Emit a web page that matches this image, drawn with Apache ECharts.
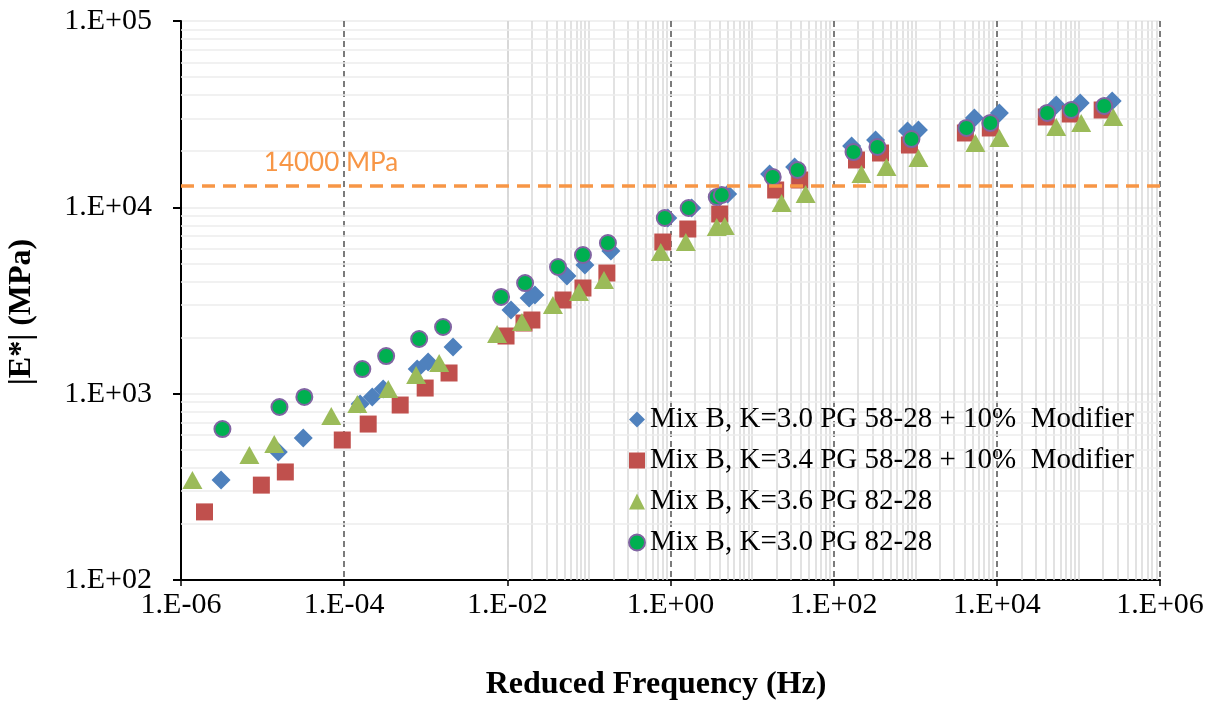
<!DOCTYPE html>
<html><head><meta charset="utf-8">
<script src="https://cdn.jsdelivr.net/npm/echarts@6/dist/echarts.min.js"></script>
<style>html,body{margin:0;padding:0;background:#fff}#c{width:1217px;height:703px}</style>
</head><body><div id="c"></div>
<script>
// ---------------- DATA ----------------
const seriesNames = [
  'Mix B, K=3.0 PG 58-28 + 10%  Modifier',
  'Mix B, K=3.4 PG 58-28 + 10%  Modifier',
  'Mix B, K=3.6 PG 82-28',
  'Mix B, K=3.0 PG 82-28'
];
// reduced frequency (Hz) and |E*| (MPa)
const s1Freq = [3.1e-6, 1.56e-5, 3.15e-5, 1.57e-4, 2.21e-4, 3.01e-4, 7.85e-4, 1.07e-3, 2.16e-3, 1.11e-2, 1.85e-2, 2.18e-2, 5.38e-2, 8.93e-2, 0.186, 0.927, 1.82, 4.01, 5.02, 16.4, 33.2, 166, 326, 803, 1094, 5309, 10740, 53460, 105200, 259400];
const s1Mod  = [344, 486, 578, 880, 960, 1059, 1356, 1479, 1780, 2812, 3262, 3385, 4280, 4903, 5830, 8766, 9918, 11360, 11790, 15100, 16460, 21340, 22980, 25680, 26000, 30160, 32090, 35420, 36300, 37220];

const s2Freq = [1.94e-6, 9.66e-6, 1.90e-5, 9.48e-5, 1.97e-4, 4.86e-4, 9.84e-4, 1.93e-3, 9.64e-3, 1.60e-2, 2.00e-2, 4.81e-2, 8.45e-2, 0.166, 0.805, 1.63, 4.01, 19.45, 38.3, 190.5, 375, 849, 4115, 8318, 40360, 79430, 195400];
const s2Mod  = [232, 323, 380, 564, 687, 869, 1072, 1291, 2039, 2394, 2485, 3182, 3690, 4441, 6514, 7650, 9210, 12390, 14020, 17950, 19570, 21600, 25060, 26660, 30540, 31690, 33290];

const s3Freq = [1.38e-6, 6.89e-6, 1.39e-5, 6.95e-5, 1.45e-4, 3.47e-4, 7.62e-4, 1.46e-3, 7.48e-3, 1.51e-2, 3.62e-2, 7.55e-2, 0.153, 0.760, 1.54, 3.69, 4.62, 23.0, 45.3, 219, 444, 1094, 5458, 10740, 53460, 108200, 266700];
const s3Mod  = [344, 469, 537, 759, 880, 1059, 1259, 1460, 2090, 2424, 2991, 3512, 4074, 5758, 6514, 7843, 7940, 10550, 11790, 15100, 16460, 18400, 22140, 23560, 26990, 28360, 30540];

const s4Freq = [3.22e-6, 1.61e-5, 3.25e-5, 1.67e-4, 3.27e-4, 8.30e-4, 1.63e-3, 8.38e-3, 1.65e-2, 4.18e-2, 8.45e-2, 0.171, 0.851, 1.67, 3.69, 4.25, 17.9, 36.1, 175, 344, 898, 4236, 8318, 41500, 81660, 207000];
const s4Mod  = [646, 848, 960, 1356, 1592, 1965, 2279, 3303, 3925, 4784, 5549, 6435, 8766, 9918, 11360, 11650, 14550, 15860, 19810, 21080, 23260, 26660, 28360, 32090, 33290, 34980];

// reference line (drawn position) and its label
const refLineFreq = [1e-6, 1.37e6];
const refLineMod = [13000, 13000];
const refLabel = '14000 MPa';

const xTitle = 'Reduced Frequency (Hz)';
const yTitle = '|E*| (MPa)';

// ---------------- CHART ----------------
const FONT = "'Liberation Serif','Times New Roman',serif";
function fmt(v) {
  const e = Math.round(Math.log10(v));
  return '1.E' + (e < 0 ? '-' : '+') + String(Math.abs(e)).padStart(2, '0');
}
function zip(a, b) { return a.map((v, i) => [v, b[i]]); }

const minorX = [];
for (let k = -6; k < 6; k++) {
  for (let m = 2; m <= 9; m++) minorX.push(m * Math.pow(10, k));
  if (k % 2 !== 0) minorX.push(Math.pow(10, k));
}
const minorY = [];
for (let k = 2; k < 5; k++) for (let m = 2; m <= 9; m++) minorY.push(m * Math.pow(10, k));

const chart = echarts.init(document.getElementById('c'), null, { renderer: 'canvas' });

const scatterBase = { type: 'scatter', z: 2, animation: false, emphasis: { disabled: true } };

chart.setOption({
  animation: false,
  backgroundColor: '#fff',
  grid: { left: 181, right: 57, top: 21, bottom: 123, containLabel: false },
  xAxis: {
    type: 'log', logBase: 100, min: 1e-6, max: 1e6,
    axisLine: { show: true, lineStyle: { color: '#000', width: 2 } },
    axisTick: { show: true, length: 6, lineStyle: { color: '#000', width: 1.5 } },
    axisLabel: { formatter: fmt, fontFamily: FONT, fontSize: 30, color: '#000', margin: 10 },
    splitLine: { show: true, lineStyle: { color: '#505050', width: 1.5, type: [6, 4] } },
    minorTick: { show: false }, minorSplitLine: { show: false }
  },
  yAxis: {
    type: 'log', logBase: 10, min: 100, max: 100000,
    axisLine: { show: true, lineStyle: { color: '#000', width: 2 } },
    axisTick: { show: true, length: 8, lineStyle: { color: '#000', width: 2 } },
    axisLabel: { formatter: fmt, fontFamily: FONT, fontSize: 30, color: '#000', margin: 29 },
    splitLine: { show: true, lineStyle: { color: '#EBEBEB', width: 1.5 } }
  },
  legend: {
    orient: 'vertical', left: 623, top: 399,
    itemWidth: 16, itemHeight: 16, itemGap: 10,
    textStyle: { fontFamily: FONT, fontSize: 29, color: '#000', lineHeight: 31 },
    data: seriesNames
  },
  graphic: [
    { type: 'text', x: 656, y: 685, silent: true,
      style: { text: xTitle, font: 'bold 32px ' + FONT, fill: '#000', align: 'center', verticalAlign: 'middle' } },
    { type: 'text', x: 22, y: 312, rotation: Math.PI / 2, silent: true,
      style: { text: yTitle, font: 'bold 32px ' + FONT, fill: '#000', align: 'center', verticalAlign: 'middle' } },
    { type: 'text', x: 331, y: 163, silent: true,
      style: { text: refLabel, font: "26px Lato, 'Liberation Sans', sans-serif", fill: '#F79646', align: 'center', verticalAlign: 'middle' } }
  ],
  series: [
    Object.assign({}, scatterBase, { name: seriesNames[0], symbol: 'diamond', symbolSize: 19,
      itemStyle: { color: '#4F81BD', opacity: 1 }, data: zip(s1Freq, s1Mod) }),
    Object.assign({}, scatterBase, { name: seriesNames[1], symbol: 'rect', symbolSize: 17,
      itemStyle: { color: '#C0504D', opacity: 1 }, data: zip(s2Freq, s2Mod) }),
    Object.assign({}, scatterBase, { name: seriesNames[2], symbol: 'triangle', symbolSize: [20, 18],
      itemStyle: { color: '#9BBB59', opacity: 1 }, data: zip(s3Freq, s3Mod) }),
    Object.assign({}, scatterBase, { name: seriesNames[3], symbol: 'circle', symbolSize: 16,
      itemStyle: { color: '#00B050', borderColor: '#8064A2', borderWidth: 2, opacity: 1 }, data: zip(s4Freq, s4Mod) }),
    {
      name: 'ref', type: 'line', z: 5, clip: false, silent: true, symbol: 'none',
      lineStyle: { color: '#F79646', width: 3.5, type: [13, 8] },
      data: zip(refLineFreq, refLineMod),
      markLine: {
        z: 1, silent: true, symbol: ['none', 'none'], label: { show: false }, animation: false,
        emphasis: { disabled: true },
        data: [
          ...minorX.map(v => ({ xAxis: v, lineStyle: { color: '#D9D9D9', width: 1.5, type: 'solid' } })),
          ...minorY.map(v => ({ yAxis: v, lineStyle: { color: '#EDEDED', width: 1.5, type: 'solid' } }))
        ]
      }
    }
  ]
});
</script>
</body></html>
